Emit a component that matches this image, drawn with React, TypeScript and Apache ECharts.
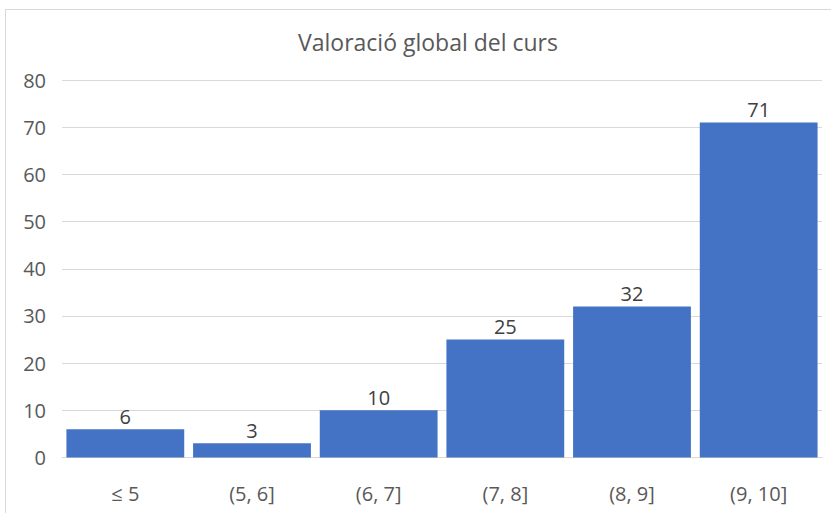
import React, { useEffect, useRef } from "react";
import * as echarts from "echarts";

const categories = ["≤ 5", "(5, 6]", "(6, 7]", "(7, 8]", "(8, 9]", "(9, 10]"];
const values = [6, 3, 10, 25, 32, 71];
const titleText = "Valoració global del curs";

export default function App() {
  const ref = useRef<HTMLDivElement>(null);
  useEffect(() => {
    if (!ref.current) return;
    const chart = echarts.init(ref.current, null, { renderer: "svg" });
    const font = "Open Sans";
    chart.setOption({
      animation: false,
      backgroundColor: "#ffffff",
      title: {
        text: titleText,
        left: 293,
        top: 25,
        textStyle: { fontFamily: font, fontSize: 23, fontWeight: "normal", color: "#595959" },
      },
      graphic: [
        {
          type: "rect",
          shape: { x: 5.5, y: 9.5, width: 840, height: 520 },
          style: { fill: "none", stroke: "#d9d9d9", lineWidth: 1 },
          silent: true,
          z: -1,
        },
      ],
      grid: { left: 62, right: 9, top: 80, bottom: 55.5, containLabel: false },
      xAxis: {
        type: "category",
        data: categories,
        axisLine: { show: true, lineStyle: { color: "#d9d9d9", width: 1 } },
        axisTick: { show: false },
        axisLabel: { fontFamily: font, fontSize: 20, color: "#595959", margin: 26 },
      },
      yAxis: {
        type: "value",
        min: 0,
        max: 80,
        interval: 10,
        axisLine: { show: false },
        axisTick: { show: false },
        splitLine: { lineStyle: { color: "#d9d9d9", width: 1 } },
        axisLabel: { fontFamily: font, fontSize: 20, color: "#595959", margin: 16 },
      },
      series: [
        {
          type: "bar",
          data: values,
          barCategoryGap: "7%",
          itemStyle: { color: "#4472c4" },
          label: {
            show: true,
            position: "top",
            distance: 3,
            fontFamily: font,
            fontSize: 20,
            color: "#404040",
          },
        },
      ],
    });
    return () => chart.dispose();
  }, []);
  return (
    <div
      ref={ref}
      style={{ position: "fixed", left: 0, top: 0, width: 831, height: 513 }}
    />
  );
}
